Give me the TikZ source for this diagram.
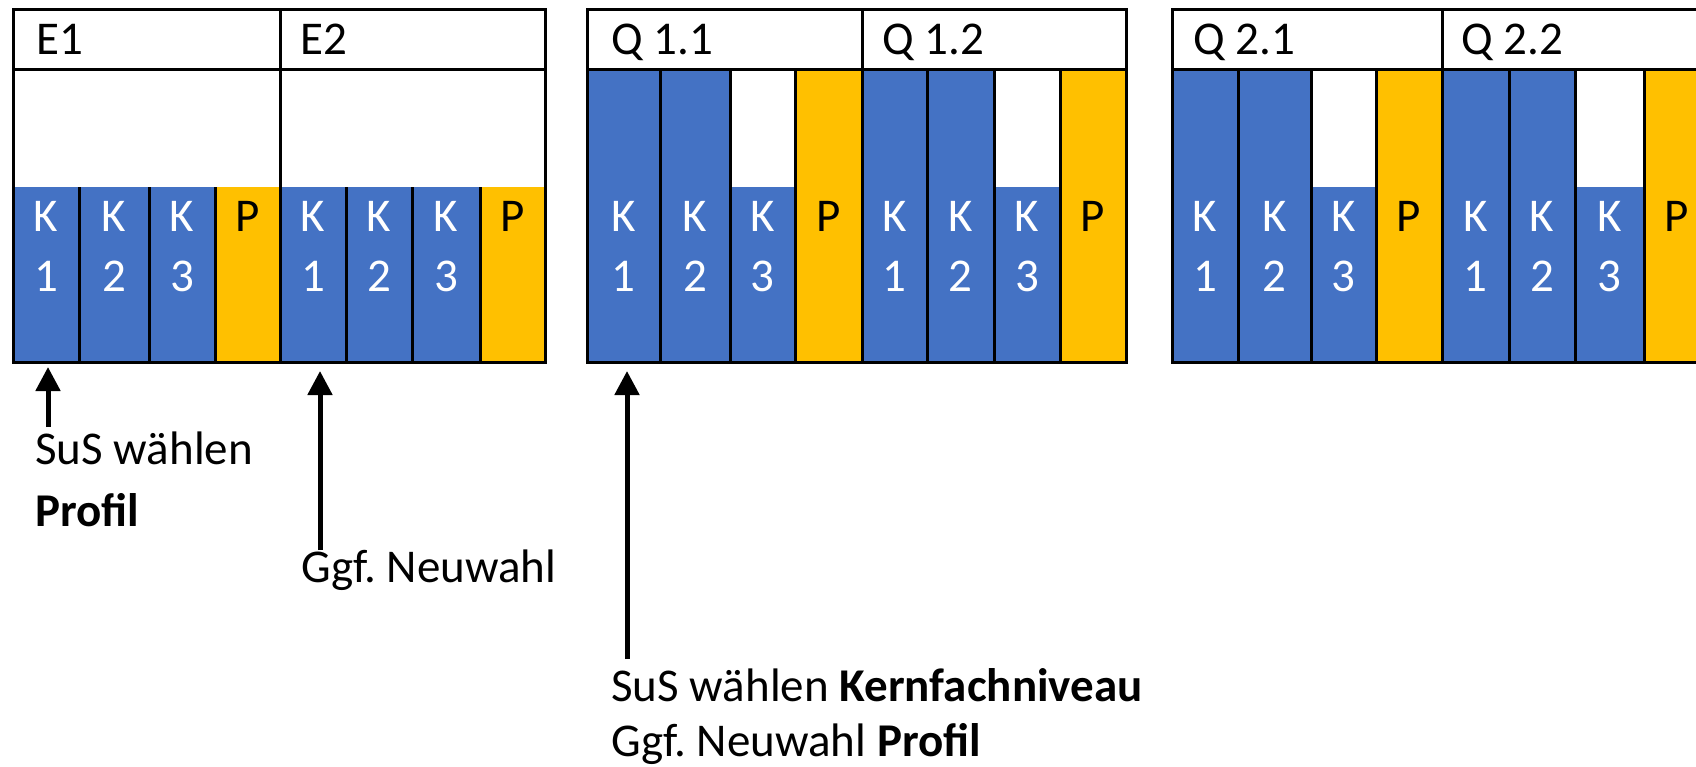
\documentclass[tikz,border=0pt]{standalone}
\usepackage{fontspec}
\setmainfont{Carlito}
\usetikzlibrary{arrows.meta}
\definecolor{kblue}{HTML}{4472C4}
\definecolor{pgold}{HTML}{FFC000}
\frenchspacing
% #1 name, #2 x1, #3 x2, #4 fill top, #5 digit
\newcommand{\kcolumn}[5]{%
  \fill[kblue] (#2,#4) rectangle (#3,362);
  \node[lbl, text=white] (#1a) at ({(#2+#3)/2},231) {K};
  \node[lbl, text=white] (#1b) at ({(#2+#3)/2},291) {#5};
}
% #1 name, #2 x1, #3 x2, #4 fill top
\newcommand{\pcolumn}[4]{%
  \fill[pgold] (#2,#4) rectangle (#3,362);
  \node[lbl, text=black] (#1a) at ({(#2+#3)/2},231) {P};
}
\begin{document}
\begin{tikzpicture}[x=0.5pt,y=-0.5pt,
  frame/.style={line width=1.5pt, draw=black},
  lbl/.style={font=\fontsize{23.5}{30}\selectfont, inner sep=0pt, anchor=base},
  hdr/.style={lbl, anchor=base west},
  note/.style={lbl, anchor=base west},
  arr/.style={line width=2.5pt, draw=black, -{Triangle[width=12pt,length=12pt]}},
]
\useasboundingbox (0,0) rectangle (1696,766);
\fill[white] (0,0) rectangle (1696,766);
\clip (0,0) rectangle (1696,766);

% ---------- Block E1 / E2 ----------
\kcolumn{eak1}{13}{79}{187}{1}
\kcolumn{eak2}{79}{149}{187}{2}
\kcolumn{eak3}{149}{215}{187}{3}
\pcolumn{eap}{215}{280}{187}
\kcolumn{ebk1}{280}{346}{187}{1}
\kcolumn{ebk2}{346}{412}{187}{2}
\kcolumn{ebk3}{412}{480}{187}{3}
\pcolumn{ebp}{480}{545}{187}
\foreach \x in {79,149,215,346,412,480} \draw[frame] (\x,187) -- (\x,362);
\draw[frame] (280,9) -- (280,362);
\draw[frame] (13,69) -- (545,69);
\draw[frame] (13,9) rectangle (545,362);
\node[hdr] (hE1) at (36,54) {E1};
\node[hdr] (hE2) at (300,54) {E2};

% ---------- Block Q1 ----------
\kcolumn{qak1}{587}{660}{69}{1}
\kcolumn{qak2}{660}{730}{69}{2}
\kcolumn{qak3}{730}{795}{187}{3}
\pcolumn{qap}{795}{862}{69}
\kcolumn{qbk1}{862}{927}{69}{1}
\kcolumn{qbk2}{927}{994}{69}{2}
\kcolumn{qbk3}{994}{1060}{187}{3}
\pcolumn{qbp}{1060}{1126}{69}
\foreach \x in {660,730,795,927,994,1060} \draw[frame] (\x,69) -- (\x,362);
\draw[frame] (862,9) -- (862,362);
\draw[frame] (587,69) -- (1126,69);
\draw[frame] (587,9) rectangle (1126,362);
\node[hdr] (hQ11) at (611,54) {Q 1.1};
\node[hdr] (hQ12) at (882,54) {Q 1.2};

% ---------- Block Q2 ----------
\kcolumn{rak1}{1172}{1238}{69}{1}
\kcolumn{rak2}{1238}{1311}{69}{2}
\kcolumn{rak3}{1311}{1376}{187}{3}
\pcolumn{rap}{1376}{1442}{69}
\kcolumn{rbk1}{1442}{1509}{69}{1}
\kcolumn{rbk2}{1509}{1575}{69}{2}
\kcolumn{rbk3}{1575}{1644}{187}{3}
\pcolumn{rbp}{1644}{1710}{69}
\foreach \x in {1238,1311,1376,1509,1575,1644} \draw[frame] (\x,69) -- (\x,362);
\draw[frame] (1442,9) -- (1442,362);
\draw[frame] (1172,69) -- (1710,69);
\draw[frame] (1172,9) rectangle (1710,362);
\node[hdr] (hQ21) at (1193,54) {Q 2.1};
\node[hdr] (hQ22) at (1461,54) {Q 2.2};

% ---------- Notes and arrows ----------
\node[note] (n1a) at (35,464) {SuS wählen};
\node[note] (n1b) at (35,526) {\bfseries Profil};
\node[note] (n2) at (301,582) {Ggf. Neuwahl};
\node[note] (n3a) at (611,701) {SuS wählen \textbf{Kernfachniveau}};
\node[note] (n3b) at (611,756) {Ggf. Neuwahl \textbf{Profil}};

\coordinate (a1s) at (48,427);
\coordinate (a1e) at (48,367);
\coordinate (a2s) at (320,550);
\coordinate (a2e) at (320,371);
\coordinate (a3s) at (627,659);
\coordinate (a3e) at (627,371);
\draw[arr] (a1s) -- (a1e);
\draw[arr] (a2s) -- (a2e);
\draw[arr] (a3s) -- (a3e);
\end{tikzpicture}
\end{document}
